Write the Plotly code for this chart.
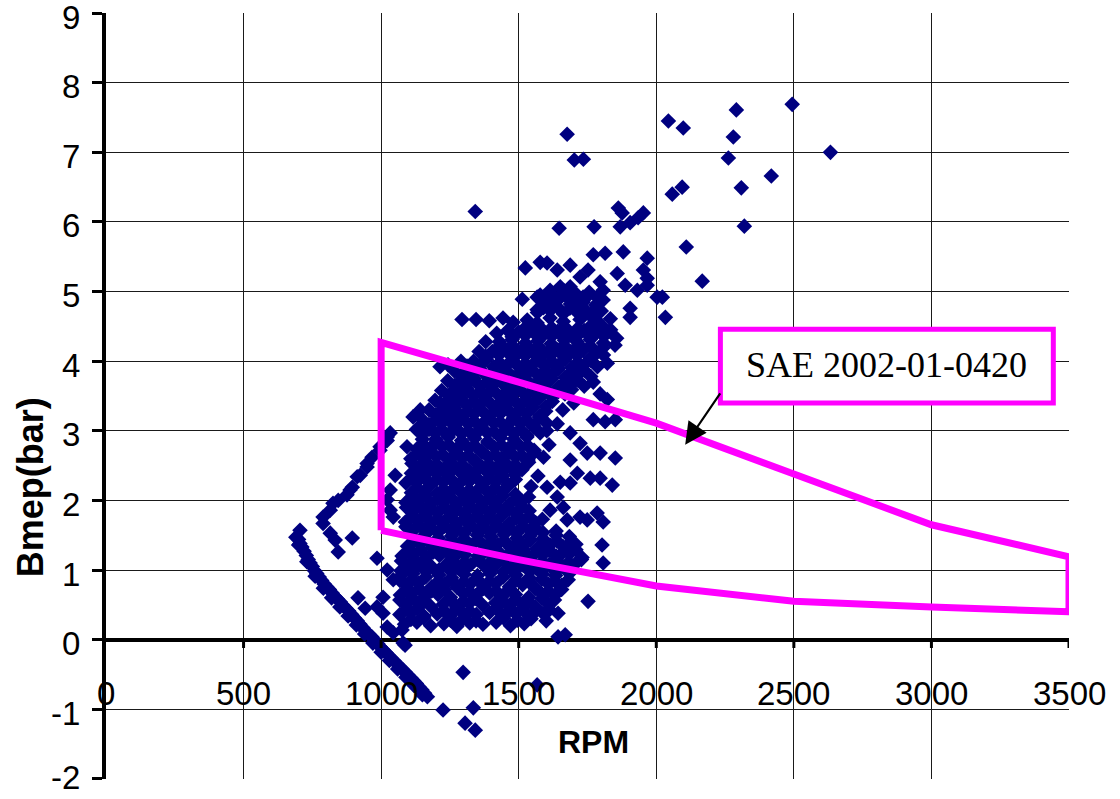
import plotly.graph_objects as go

# Engine operating points: (speed [rpm], brake mean effective pressure [bar])

# closed-throttle / motoring trail
band_pts = [
    (690, 1.47), (700, 1.44), (705, 1.38), (712, 1.33), (720, 1.27), (728, 1.21), (735, 1.15),
    (742, 1.10), (750, 1.05), (758, 0.99), (766, 0.95), (775, 0.90), (784, 0.85), (793, 0.80),
    (802, 0.76), (812, 0.72), (822, 0.67), (832, 0.62), (842, 0.58), (852, 0.54), (862, 0.49),
    (872, 0.45), (882, 0.41), (893, 0.36), (903, 0.31), (913, 0.27), (923, 0.22), (934, 0.17),
    (944, 0.12), (955, 0.08), (966, 0.04), (977, -0.01), (988, -0.06), (998, -0.11), (1008, -0.15),
    (1018, -0.19), (1028, -0.23), (1038, -0.27), (1048, -0.31), (1058, -0.35), (1068, -0.39),
    (1078, -0.43), (1088, -0.47), (1098, -0.51), (1108, -0.55), (1118, -0.59), (1128, -0.63),
    (1138, -0.68), (1148, -0.72), (1158, -0.77), (1168, -0.82),
    (700, 1.36), (730, 1.12), (760, 0.91), (790, 0.74), (820, 0.60), (850, 0.47), (880, 0.34),
    (910, 0.21), (940, 0.08), (970, -0.05), (1000, -0.18), (1030, -0.30), (1060, -0.42),
    (1090, -0.54), (1120, -0.66), (1150, -0.79),
]

# low-speed points left of the main cloud
left_pts = [
    (705, 1.57), (789, 1.67), (789, 1.76), (815, 1.86), (825, 1.96), (844, 2.00), (876, 2.08),
    (887, 2.15), (895, 2.19), (913, 2.34), (924, 2.36), (949, 2.48), (949, 2.53), (967, 2.62),
    (996, 2.72), (996, 2.77), (1022, 2.86), (1022, 2.91), (1033, 2.97), (815, 1.53), (833, 1.43),
    (844, 1.26), (895, 1.46), (1051, 2.36), (1116, 2.39), (1094, 2.77), (1142, 2.72), (1116, 3.20),
    (1142, 3.06), (1167, 3.06), (1142, 3.30), (1214, 3.40), (1262, 3.30), (1240, 3.20), (1214, 3.92),
    (1243, 3.95), (1287, 3.63), (1313, 3.69), (1287, 3.20), (1033, 2.15), (1022, 2.01), (1033, 1.86),
    (1044, 1.76), (985, 1.17), (1022, 1.00), (1044, 0.86), (916, 0.60), (942, 0.45), (1007, 0.38),
    (1022, 0.18), (1076, 0.14), (1087, -0.08), (1007, 0.61), (985, 0.47), (1044, 0.10), (1080, -0.05),
    (1356, 4.14), (1380, 4.28), (1420, 4.40), (1460, 4.44),
]

# main operating cloud
core_pts = [
    (1085, 0.22), (1130, 0.25), (1180, 0.20), (1228, 0.23), (1275, 0.19), (1322, 0.24), (1370, 0.22), (1418, 0.25), (1470, 0.20), (1520, 0.23),
    (1068, 0.36), (1110, 0.39), (1156, 0.34), (1204, 0.37), (1250, 0.33), (1298, 0.38), (1346, 0.36), (1394, 0.39), (1442, 0.34), (1490, 0.37), (1538, 0.33), (1588, 0.38),
    (1088, 0.50), (1134, 0.53), (1180, 0.48), (1226, 0.51), (1274, 0.47), (1320, 0.52), (1368, 0.50), (1416, 0.53), (1464, 0.48), (1512, 0.51), (1560, 0.47), (1606, 0.52),
    (1070, 0.64), (1114, 0.67), (1160, 0.62), (1206, 0.65), (1252, 0.61), (1300, 0.66), (1346, 0.64), (1394, 0.67), (1440, 0.62), (1488, 0.65), (1536, 0.61), (1584, 0.66), (1632, 0.64),
    (1090, 0.78), (1136, 0.81), (1184, 0.76), (1230, 0.79), (1276, 0.75), (1324, 0.80), (1370, 0.78), (1418, 0.81), (1466, 0.76), (1514, 0.79), (1560, 0.75), (1608, 0.80), (1656, 0.78),
    (1072, 0.92), (1116, 0.95), (1162, 0.90), (1210, 0.93), (1256, 0.89), (1302, 0.94), (1350, 0.92), (1396, 0.95), (1444, 0.90), (1490, 0.93), (1538, 0.89), (1586, 0.94), (1634, 0.92), (1684, 0.95),
    (1094, 1.06), (1140, 1.09), (1186, 1.04), (1234, 1.07), (1280, 1.03), (1326, 1.08), (1374, 1.06), (1420, 1.09), (1468, 1.04), (1516, 1.07), (1562, 1.03), (1610, 1.08), (1658, 1.06), (1706, 1.09),
    (1076, 1.20), (1120, 1.23), (1166, 1.18), (1212, 1.21), (1258, 1.17), (1304, 1.22), (1352, 1.20), (1398, 1.23), (1446, 1.18), (1494, 1.21), (1540, 1.17), (1588, 1.22), (1636, 1.20), (1684, 1.23), (1730, 1.18),
    (1096, 1.34), (1142, 1.37), (1188, 1.32), (1236, 1.35), (1282, 1.31), (1330, 1.36), (1376, 1.34), (1424, 1.37), (1470, 1.32), (1518, 1.35), (1566, 1.31), (1614, 1.36), (1660, 1.34), (1708, 1.37),
    (1112, 1.48), (1160, 1.51), (1208, 1.46), (1256, 1.49), (1302, 1.45), (1350, 1.50), (1398, 1.48), (1446, 1.51), (1494, 1.46), (1540, 1.49), (1588, 1.45), (1636, 1.50), (1684, 1.48),
    (1090, 1.62), (1136, 1.65), (1184, 1.60), (1230, 1.63), (1278, 1.59), (1326, 1.64), (1372, 1.62), (1420, 1.65), (1468, 1.60), (1516, 1.63), (1564, 1.59),
    (1110, 1.76), (1158, 1.79), (1206, 1.74), (1252, 1.77), (1300, 1.73), (1348, 1.78), (1394, 1.76), (1442, 1.79), (1490, 1.74), (1538, 1.77), (1586, 1.73),
    (1092, 1.90), (1136, 1.93), (1182, 1.88), (1230, 1.91), (1276, 1.87), (1324, 1.92), (1370, 1.90), (1418, 1.93), (1466, 1.88), (1514, 1.91),
    (1110, 2.04), (1158, 2.07), (1204, 2.02), (1252, 2.05), (1298, 2.01), (1346, 2.06), (1394, 2.04), (1442, 2.07), (1490, 2.02), (1536, 2.05),
    (1130, 2.18), (1178, 2.21), (1226, 2.16), (1272, 2.19), (1320, 2.15), (1368, 2.20), (1414, 2.18), (1462, 2.21),
    (1112, 2.32), (1156, 2.35), (1202, 2.30), (1248, 2.33), (1296, 2.29), (1344, 2.34), (1392, 2.32), (1440, 2.35), (1488, 2.30),
    (1132, 2.46), (1180, 2.49), (1226, 2.44), (1274, 2.47), (1320, 2.43), (1368, 2.48), (1416, 2.46), (1464, 2.49), (1512, 2.44),
    (1108, 2.60), (1154, 2.60), (1200, 2.63), (1248, 2.58), (1294, 2.61), (1342, 2.57), (1390, 2.62), (1438, 2.60), (1486, 2.63), (1534, 2.58),
    (1130, 2.74), (1176, 2.74), (1222, 2.77), (1270, 2.72), (1318, 2.75), (1364, 2.71), (1412, 2.76), (1460, 2.74), (1508, 2.77), (1556, 2.72),
    (1150, 2.88), (1198, 2.88), (1244, 2.91), (1292, 2.86), (1340, 2.89), (1388, 2.85), (1434, 2.90), (1482, 2.88), (1530, 2.91),
    (1128, 3.02), (1174, 3.02), (1220, 3.02), (1268, 3.05), (1316, 3.00), (1362, 3.03), (1410, 2.99), (1458, 3.04), (1506, 3.02), (1554, 3.05), (1602, 3.00),
    (1150, 3.16), (1198, 3.16), (1244, 3.16), (1290, 3.19), (1338, 3.14), (1386, 3.17), (1432, 3.13), (1480, 3.18), (1528, 3.16), (1576, 3.19),
    (1174, 3.30), (1220, 3.30), (1266, 3.33), (1314, 3.28), (1362, 3.31), (1408, 3.27), (1456, 3.32), (1504, 3.30), (1552, 3.33), (1598, 3.28),
    (1196, 3.44), (1242, 3.44), (1290, 3.47), (1336, 3.42), (1384, 3.45), (1432, 3.41), (1478, 3.46), (1526, 3.44), (1574, 3.47), (1622, 3.42),
    (1220, 3.58), (1266, 3.58), (1312, 3.61), (1360, 3.56), (1406, 3.59), (1454, 3.55), (1502, 3.60), (1550, 3.58), (1596, 3.61), (1644, 3.56), (1692, 3.59),
    (1242, 3.72), (1288, 3.72), (1336, 3.75), (1384, 3.70), (1430, 3.73), (1478, 3.69), (1526, 3.74), (1572, 3.72), (1620, 3.75), (1668, 3.70), (1714, 3.73),
    (1266, 3.86), (1312, 3.86), (1358, 3.89), (1406, 3.84), (1454, 3.87), (1502, 3.83), (1548, 3.88), (1596, 3.86), (1644, 3.89), (1690, 3.84), (1738, 3.87),
    (1290, 4.00), (1336, 4.00), (1382, 4.03), (1430, 3.98), (1478, 4.01), (1524, 3.97), (1572, 4.02), (1620, 4.00), (1668, 4.03), (1714, 3.98), (1762, 4.01),
    (1404, 4.14), (1452, 4.17), (1500, 4.12), (1546, 4.15), (1594, 4.11), (1642, 4.16), (1690, 4.14), (1736, 4.17), (1784, 4.12),
    (1430, 4.28), (1476, 4.31), (1524, 4.26), (1570, 4.29), (1618, 4.25), (1666, 4.30), (1712, 4.28), (1760, 4.31), (1808, 4.26),
    (1500, 4.42), (1548, 4.45), (1596, 4.40), (1642, 4.43), (1690, 4.39), (1738, 4.44), (1786, 4.42), (1834, 4.45),
    (1294, 4.60), (1345, 4.60), (1393, 4.58), (1443, 4.62), (1480, 4.56), (1531, 4.59), (1567, 4.55), (1614, 4.62), (1662, 4.57), (1723, 4.60), (1785, 4.58), (1833, 4.61), (1905, 4.63),
    (1568, 4.70), (1614, 4.73), (1662, 4.68), (1710, 4.71), (1756, 4.67), (1800, 4.72),
    (1592, 4.84), (1640, 4.87), (1688, 4.82), (1734, 4.85), (1780, 4.81),
    (1616, 4.98), (1664, 5.01), (1710, 4.96), (1756, 4.99),
]

# further points inside the main cloud, between the rows above
core_fill_pts = [
    (1108, 0.29), (1155, 0.31), (1252, 0.28), (1298, 0.30), (1345, 0.27), (1445, 0.31), (1495, 0.28), (1545, 0.30), (1600, 0.27),
    (1090, 0.43), (1132, 0.45), (1228, 0.42), (1275, 0.44), (1322, 0.41), (1418, 0.45), (1466, 0.42), (1514, 0.44), (1562, 0.41), (1612, 0.43),
    (1068, 0.57), (1112, 0.59), (1158, 0.56), (1250, 0.58), (1298, 0.55), (1344, 0.59), (1440, 0.56), (1488, 0.58), (1536, 0.55), (1584, 0.59), (1630, 0.57),
    (1092, 0.71), (1138, 0.73), (1184, 0.70), (1230, 0.72), (1322, 0.69), (1370, 0.73), (1418, 0.70), (1464, 0.72), (1560, 0.73), (1608, 0.70), (1656, 0.72),
    (1068, 0.85), (1114, 0.87), (1208, 0.84), (1254, 0.86), (1300, 0.83), (1348, 0.87), (1394, 0.84), (1490, 0.86), (1538, 0.83), (1584, 0.87), (1632, 0.84), (1680, 0.86),
    (1072, 0.99), (1118, 1.01), (1164, 0.98), (1210, 1.00), (1256, 0.97), (1304, 1.01), (1398, 1.00), (1444, 0.97), (1492, 1.01), (1540, 0.98), (1586, 1.00), (1634, 0.97), (1682, 1.01),
    (1074, 1.13), (1118, 1.15), (1164, 1.12), (1258, 1.14), (1304, 1.11), (1350, 1.15), (1398, 1.12), (1446, 1.14), (1492, 1.11), (1540, 1.15), (1586, 1.12), (1634, 1.14), (1682, 1.11), (1728, 1.15),
    (1098, 1.27), (1144, 1.29), (1190, 1.26), (1236, 1.28), (1282, 1.25), (1376, 1.26), (1422, 1.28), (1470, 1.25), (1518, 1.29), (1564, 1.26), (1612, 1.28), (1660, 1.25), (1708, 1.29),
    (1118, 1.41), (1166, 1.43), (1212, 1.40), (1258, 1.42), (1306, 1.39), (1354, 1.43), (1400, 1.40), (1448, 1.42), (1494, 1.39), (1542, 1.43), (1590, 1.40), (1638, 1.42), (1686, 1.39),
    (1112, 1.55), (1158, 1.57), (1206, 1.54), (1254, 1.56), (1302, 1.53), (1350, 1.57), (1396, 1.54), (1444, 1.56), (1492, 1.53), (1540, 1.57), (1588, 1.54), (1636, 1.56),
    (1088, 1.69), (1134, 1.71), (1182, 1.68), (1230, 1.70), (1276, 1.67), (1324, 1.71), (1372, 1.68), (1418, 1.70), (1466, 1.67), (1514, 1.71), (1562, 1.68),
    (1112, 1.83), (1158, 1.85), (1204, 1.82), (1252, 1.84), (1300, 1.81), (1346, 1.85), (1394, 1.82), (1442, 1.84), (1490, 1.81), (1538, 1.85),
    (1090, 1.97), (1134, 1.99), (1182, 1.96), (1228, 1.98), (1276, 1.95), (1322, 1.99), (1370, 1.96), (1418, 1.98), (1466, 1.95), (1512, 1.99),
    (1110, 2.11), (1156, 2.13), (1204, 2.10), (1250, 2.12), (1298, 2.09), (1346, 2.13), (1392, 2.10), (1440, 2.12), (1488, 2.09),
    (1090, 2.25), (1132, 2.27), (1178, 2.24), (1226, 2.26), (1272, 2.23), (1320, 2.27), (1368, 2.24), (1416, 2.26), (1462, 2.23),
    (1110, 2.39), (1156, 2.41), (1202, 2.38), (1250, 2.40), (1296, 2.37), (1344, 2.41), (1392, 2.38), (1438, 2.40), (1486, 2.37),
    (1112, 2.53), (1156, 2.55), (1202, 2.52), (1250, 2.54), (1296, 2.51), (1344, 2.55), (1392, 2.52), (1440, 2.54), (1488, 2.51), (1536, 2.55),
    (1130, 2.67), (1178, 2.69), (1224, 2.66), (1272, 2.68), (1318, 2.65), (1366, 2.69), (1414, 2.66), (1462, 2.68), (1510, 2.65), (1556, 2.69),
    (1152, 2.81), (1198, 2.83), (1246, 2.80), (1294, 2.82), (1340, 2.79), (1388, 2.83), (1436, 2.80), (1484, 2.82), (1532, 2.79),
    (1150, 2.95), (1196, 2.97), (1244, 2.94), (1292, 2.96), (1338, 2.93), (1386, 2.97), (1434, 2.94), (1482, 2.96), (1530, 2.93), (1578, 2.97),
    (1174, 3.09), (1220, 3.11), (1268, 3.08), (1316, 3.10), (1362, 3.07), (1410, 3.11), (1458, 3.08), (1506, 3.10), (1554, 3.07), (1602, 3.11),
    (1198, 3.23), (1244, 3.25), (1290, 3.22), (1338, 3.24), (1386, 3.21), (1434, 3.25), (1480, 3.22), (1528, 3.24), (1576, 3.21),
    (1220, 3.37), (1266, 3.39), (1312, 3.36), (1360, 3.38), (1408, 3.35), (1456, 3.39), (1502, 3.36), (1550, 3.38), (1598, 3.35),
    (1244, 3.51), (1290, 3.53), (1336, 3.50), (1384, 3.52), (1432, 3.49), (1478, 3.53), (1526, 3.50), (1574, 3.52), (1620, 3.49), (1668, 3.53),
    (1266, 3.65), (1312, 3.67), (1360, 3.64), (1408, 3.66), (1454, 3.63), (1502, 3.67), (1550, 3.64), (1596, 3.66), (1644, 3.63), (1692, 3.67), (1738, 3.64),
    (1290, 3.79), (1336, 3.81), (1384, 3.78), (1432, 3.80), (1480, 3.77), (1526, 3.81), (1574, 3.78), (1620, 3.80), (1668, 3.77), (1716, 3.81), (1762, 3.78),
    (1312, 3.93), (1360, 3.95), (1408, 3.92), (1456, 3.94), (1502, 3.91), (1550, 3.95), (1596, 3.92), (1644, 3.94), (1692, 3.91), (1738, 3.95), (1786, 3.92),
    (1380, 4.07), (1428, 4.09), (1476, 4.06), (1524, 4.08), (1570, 4.05), (1618, 4.09), (1666, 4.06), (1712, 4.08), (1760, 4.05), (1808, 4.09),
    (1428, 4.21), (1476, 4.23), (1522, 4.20), (1570, 4.22), (1618, 4.19), (1664, 4.23), (1712, 4.20), (1760, 4.22), (1806, 4.19), (1850, 4.23),
    (1476, 4.35), (1524, 4.37), (1572, 4.34), (1620, 4.36), (1666, 4.33), (1714, 4.37), (1762, 4.34), (1810, 4.36), (1856, 4.33),
    (1526, 4.49), (1572, 4.51), (1620, 4.48), (1666, 4.50), (1714, 4.47), (1762, 4.51), (1810, 4.48),
    (1590, 4.77), (1638, 4.79), (1686, 4.76), (1732, 4.78), (1780, 4.75),
    (1604, 4.91), (1652, 4.93), (1700, 4.90), (1746, 4.92),
]

# sparse points at the edges of the cloud
edge_pts = [
    (1513, 4.89), (1578, 4.95), (1524, 5.34), (1578, 5.42), (1603, 5.41), (1640, 5.31), (1687, 5.38),
    (1647, 5.91), (1774, 5.93), (1771, 5.53), (1814, 5.55), (1880, 5.57), (1967, 5.48), (1858, 5.26),
    (1862, 6.20), (1876, 6.13), (1953, 6.13), (1934, 6.06), (1905, 5.99), (1869, 5.93), (1953, 5.31),
    (1967, 5.19), (1967, 5.09), (1931, 5.02), (1887, 5.09), (1807, 5.02), (1796, 5.14), (1785, 4.92),
    (1807, 4.88), (1905, 4.76), (2003, 4.92), (1651, 5.07), (1614, 5.02), (1687, 5.07), (1723, 5.21),
    (1752, 5.31), (1698, 4.78), (1625, 4.78), (1567, 4.92), (1567, 4.74), (1676, 4.92), (1734, 4.92),
    (1796, 3.53), (1822, 3.45), (1771, 3.16), (1814, 3.13), (1851, 3.16), (1687, 2.97), (1723, 2.82),
    (1796, 2.68), (1851, 2.61), (1749, 2.68), (1687, 2.58), (1713, 2.39), (1760, 2.32), (1796, 2.32),
    (1840, 2.22), (1687, 2.25), (1651, 2.26), (1603, 2.19), (1640, 2.05), (1662, 1.90), (1614, 1.86),
    (1676, 1.72), (1723, 1.76), (1785, 1.82), (1807, 1.69), (1749, 1.72), (1803, 1.36), (1807, 1.10),
    (1752, 0.55), (1643, 0.38), (1643, 0.04), (1669, 0.07), (1822, 3.97), (1771, 3.70),
    (1660, 3.30), (1700, 3.40), (1640, 3.10), (1610, 2.80), (1590, 2.62), (1570, 2.35), (1545, 2.20),
]

# isolated high-load and negative-load points
outlier_pts = [
    (1342, 6.15), (1676, 7.26), (1702, 6.89), (1735, 6.90), (2044, 7.45), (2098, 7.35), (2291, 7.61),
    (2494, 7.69), (2280, 7.22), (2262, 6.92), (2633, 7.00), (2418, 6.66), (2309, 6.49), (2094, 6.50),
    (2058, 6.40), (2320, 5.94), (2109, 5.64), (2167, 5.15), (2022, 4.92), (2033, 4.63),
    (1225, -1.01), (1298, -0.47), (1305, -1.20), (1335, -0.98), (1342, -1.30), (1567, -0.65),
]

# published operating envelope (SAE 2002-01-0420)
env_rpm = [1000, 1500, 2000, 2500, 3000, 3500]
env_upper = [4.27, 3.70, 3.11, 2.38, 1.65, 1.19]
env_lower = [1.57, 1.15, 0.77, 0.55, 0.47, 0.40]

x_ticks = [0, 500, 1000, 1500, 2000, 2500, 3000, 3500]
y_ticks = [-2, -1, 0, 1, 2, 3, 4, 5, 6, 7, 8, 9]

SANS = "Liberation Sans, Arial, sans-serif"
SERIF = "Liberation Serif, Times New Roman, serif"

all_pts = band_pts + left_pts + core_pts + core_fill_pts + edge_pts + outlier_pts
rpm = [p[0] for p in all_pts]
bmep = [p[1] for p in all_pts]

fig = go.Figure()

fig.add_trace(go.Scatter(
    x=rpm, y=bmep, mode="markers",
    marker=dict(symbol="diamond", size=12, color="#000080", line=dict(width=0)),
    showlegend=False, hoverinfo="x+y",
))

env_x = [env_rpm[0]] + env_rpm + env_rpm[::-1]
env_y = [env_lower[0]] + env_upper + env_lower[::-1]
fig.add_trace(go.Scatter(
    x=env_x, y=env_y, mode="lines",
    line=dict(color="#FF00FF", width=7), showlegend=False, hoverinfo="skip",
))

shapes = []
# small tick marks hanging below the zero line
for v in x_ticks[1:]:
    shapes.append(dict(type="line", xref="x", yref="y", x0=v, x1=v, y0=0, y1=-0.12,
                       line=dict(color="black", width=3)))
# label box
shapes.append(dict(type="rect", xref="x", yref="y", x0=2233, x1=3443, y0=3.40, y1=4.46,
                   line=dict(color="#FF00FF", width=5), fillcolor="white", layer="above"))

annotations = []
for v in x_ticks:
    annotations.append(dict(x=v, y=-0.77, xref="x", yref="y", text=str(v), showarrow=False,
                            font=dict(family=SANS, size=33, color="black")))
for v in y_ticks:
    annotations.append(dict(x=-0.0245, y=v, xref="paper", yref="y", text=str(v), showarrow=False,
                            xanchor="right", yanchor="middle", yshift=(-4 if v > -2 else 1),
                            font=dict(family=SANS, size=33, color="black")))
annotations.append(dict(x=1771, y=-1.47, xref="x", yref="y", text="<b>RPM</b>", showarrow=False,
                        font=dict(family=SANS, size=32, color="black")))
annotations.append(dict(x=-0.0789, y=2.19, xref="paper", yref="y", text="<b>Bmep(bar)</b>",
                        textangle=-90, showarrow=False, xanchor="center", yanchor="middle",
                        font=dict(family=SANS, size=36, color="black")))
annotations.append(dict(x=2838, y=3.94, xref="x", yref="y", text="SAE 2002-01-0420", showarrow=False,
                        font=dict(family=SERIF, size=36, color="black")))
annotations.append(dict(x=2105, y=2.80, xref="x", yref="y", ax=2236, ay=3.56, axref="x", ayref="y",
                        text="", showarrow=True, arrowhead=2, arrowsize=2, arrowwidth=2.2,
                        arrowcolor="black", standoff=0))

fig.update_layout(
    width=1120, height=799,
    margin=dict(l=106, r=51, t=13, b=20, autoexpand=False),
    paper_bgcolor="white", plot_bgcolor="white",
    shapes=shapes, annotations=annotations,
    xaxis=dict(range=[0, 3500], tickvals=x_ticks, showticklabels=False, ticks="",
               showgrid=True, gridcolor="#1a1a1a", gridwidth=1.3, automargin=False,
               zeroline=False, showline=False, fixedrange=True),
    yaxis=dict(range=[-2.002, 9.002], tickvals=y_ticks, showticklabels=False,
               showgrid=True, gridcolor="#1a1a1a", gridwidth=1.3, automargin=False,
               zeroline=True, zerolinecolor="black", zerolinewidth=3.5,
               showline=True, linecolor="black", linewidth=3.5,
               ticks="outside", ticklen=10, tickwidth=3, tickcolor="black",
               fixedrange=True),
)

fig.write_html("out.html")
